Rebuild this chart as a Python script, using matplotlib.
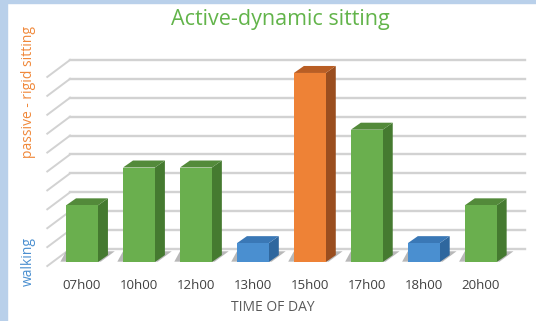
import matplotlib
matplotlib.use('Agg')
import matplotlib.pyplot as plt
from matplotlib.patches import Polygon, Rectangle

plt.rcParams['font.family'] = ['Open Sans', 'DejaVu Sans']

# dados
horarios = ['07h00', '10h00', '12h00', '13h00', '15h00', '17h00', '18h00', '20h00']
valores = [3, 5, 5, 1, 10, 7, 1, 3]
tipos = ['ativo', 'ativo', 'ativo', 'caminhada', 'passivo', 'ativo', 'caminhada', 'ativo']
niveis = list(range(0, 11))

# cores: frente, lado, topo
cores = {
    'ativo': ('#6aaf4e', '#457a30', '#538a3a'),
    'caminhada': ('#4a8fd0', '#2f679e', '#3a78b6'),
    'passivo': ('#ee8236', '#9a4e1f', '#b95e24'),
}

fig = plt.figure(figsize=(5.36, 3.21), dpi=100)
fig.patch.set_facecolor('white')
# moldura azul na esquerda e no topo
fig.add_artist(Rectangle((0, 0), 7 / 536, 1, transform=fig.transFigure, color='#b9d0ea', zorder=0))
fig.add_artist(Rectangle((0, 1 - 3 / 321), 1, 3 / 321, transform=fig.transFigure, color='#b9d0ea', zorder=0))

ax = fig.add_axes([45 / 536, 51 / 321, 487 / 536, 215 / 321])
ax.set_xlim(-0.65, 7.9)
ax.set_ylim(-0.42, 10.95)
ax.axis('off')

larg = 0.56
prof_x, prof_y = 0.175, 0.37      # profundidade da barra
parede_x, parede_y = 0.21, 0.69   # deslocamento da parede do fundo
frente_x, frente_y = -0.61, -0.21 # canto da frente do chao
fim_x = 7.77

# grade: parede do fundo e parede lateral
for n in niveis:
    ax.plot([-parede_x, fim_x], [n + parede_y, n + parede_y], color='#d2d2d2', lw=1.7, zorder=1)
    ax.plot([frente_x, -parede_x], [n + frente_y, n + parede_y], color='#d2d2d2', lw=1.4, zorder=1)

for i, (v, t) in enumerate(zip(valores, tipos)):
    f, l, tp = cores[t]
    x0, x1 = i - larg / 2, i + larg / 2
    # sombra no chao
    ax.add_patch(Polygon([(x0 - 0.1, 0.02), (x1 + 0.05, 0.02), (x1 + prof_x + 0.12, prof_y + 0.2),
                          (x0 + 0.0, prof_y + 0.2)], closed=True, color='#8a8a8a', alpha=0.6, lw=0, zorder=2))
    ax.bar(i, v, width=larg, color=f, zorder=4)
    ax.add_patch(Polygon([(x1, 0), (x1 + prof_x, prof_y), (x1 + prof_x, v + prof_y), (x1, v)],
                         closed=True, color=l, lw=0, zorder=3))
    ax.add_patch(Polygon([(x0, v), (x1, v), (x1 + prof_x, v + prof_y), (x0 + prof_x, v + prof_y)],
                         closed=True, color=tp, lw=0, zorder=3))
    ax.text(i, -1.25, horarios[i], ha='center', va='center', fontsize=9.5, color='#404040')

ax.text(3.35, -2.4, 'TIME OF DAY', ha='center', va='center', fontsize=10, color='#595959')

fig.text(280 / 536, 1 - 20 / 321, 'Active-dynamic sitting', ha='center', va='center',
         fontsize=15.5, color='#62b44a')
fig.text(28 / 536, 1 - 92 / 321, 'passive - rigid sitting', ha='center', va='center',
         rotation=90, fontsize=10, color='#f0883a')
fig.text(28 / 536, 1 - 262 / 321, 'walking', ha='center', va='center',
         rotation=90, fontsize=10, color='#4a8fd0')

fig.savefig('out.png', dpi=100)
